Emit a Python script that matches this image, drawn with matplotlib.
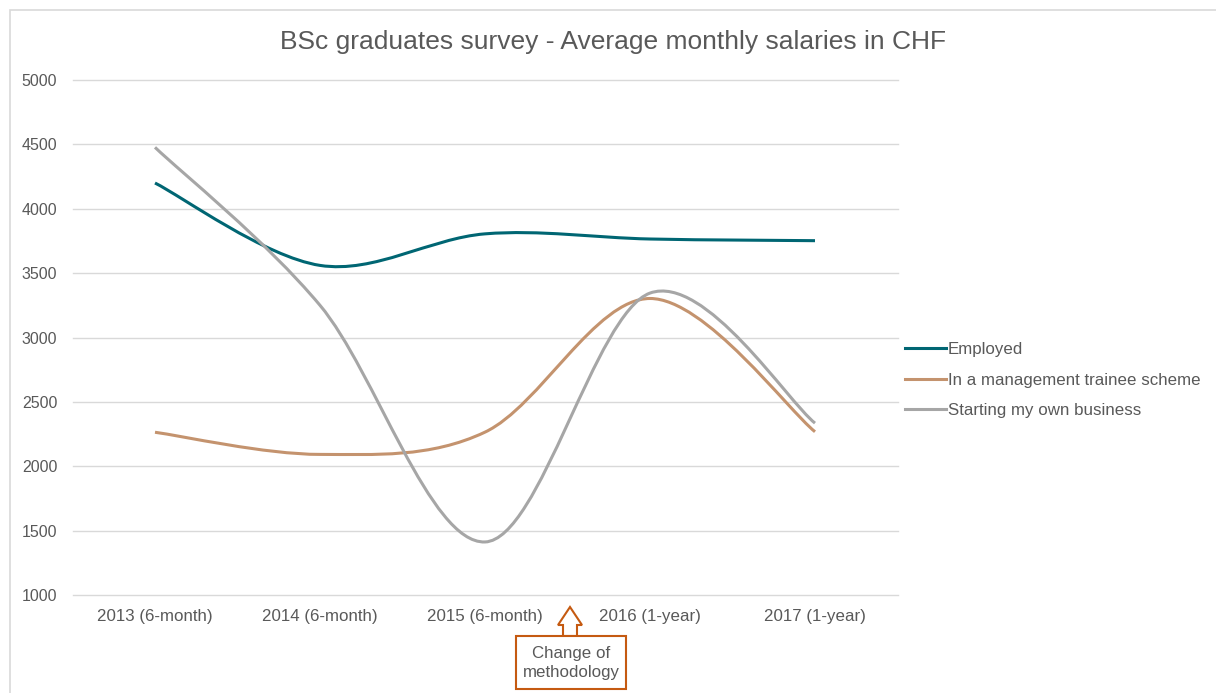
import matplotlib.pyplot as plt
import numpy as np
from matplotlib.path import Path
from matplotlib.patches import PathPatch, Rectangle, Polygon
from matplotlib.lines import Line2D

plt.rcParams['font.family'] = ['Liberation Sans', 'DejaVu Sans']

years = ["2013 (6-month)", "2014 (6-month)", "2015 (6-month)", "2016 (1-year)", "2017 (1-year)"]
employed = [4200, 3560, 3805, 3765, 3752]
trainee = [2264, 2092, 2265, 3303, 2268]
business = [4477, 3250, 1412, 3345, 2335]

names = ["Employed", "In a management trainee scheme", "Starting my own business"]
colors = ["#006673", "#C4936E", "#A6A6A6"]
grey = "#595959"


def smooth_path(xs, ys):
    # excel style smoothed line: bezier segments, control points from neighbours
    pts = np.column_stack([xs, ys]).astype(float)
    n = len(pts)
    verts = [pts[0]]
    codes = [Path.MOVETO]
    for i in range(n - 1):
        p0 = pts[i - 1] if i > 0 else pts[i]
        p1 = pts[i]
        p2 = pts[i + 1]
        p3 = pts[i + 2] if i + 2 < n else pts[i + 1]
        c1 = p1 + (p2 - p0) / 6
        c2 = p2 - (p3 - p1) / 6
        verts += [c1, c2, p2]
        codes += [Path.CURVE4] * 3
    return Path(verts, codes)


W, H = 1216, 693
fig = plt.figure(figsize=(W / 100, H / 100), dpi=100)
ax = fig.add_axes([72.5 / W, 1 - 595 / H, 825 / W, 515 / H])

x = np.arange(len(years))
handles = []
for vals, c, nm in zip([employed, trainee, business], colors, names):
    ax.add_patch(PathPatch(smooth_path(x, vals), fill=False, edgecolor=c, lw=2.2,
                           capstyle='butt', zorder=3))
    handles.append(Line2D([], [], color=c, lw=2.2, label=nm))

ax.set_xlim(-0.5, 4.5)
ax.set_ylim(1000, 5000)
ax.set_yticks(np.arange(1000, 5001, 500))
ax.set_xticks(x)
ax.set_xticklabels(years)
ax.grid(axis='y', color='#D9D9D9', lw=1)
for gl in ax.get_ygridlines():
    gl.set_clip_on(False)
ax.set_axisbelow(True)
for s in ax.spines.values():
    s.set_visible(False)
ax.tick_params(axis='x', length=0, labelsize=12.2, labelcolor=grey, pad=10)
ax.tick_params(axis='y', length=0, labelsize=11.5, labelcolor=grey, pad=11)

fig.text(613 / W, 1 - 42 / H, "BSc graduates survey - Average monthly salaries in CHF",
         ha='center', va='center', fontsize=19, color=grey)

fig.legend(handles=handles, loc='center left', bbox_to_anchor=(897 / W, 1 - 380 / H),
           frameon=False, fontsize=12.2, labelcolor=grey, handlelength=2.4,
           handletextpad=0.1, labelspacing=0.9, borderpad=0)

# chart area border
fig.patches.append(Rectangle((10 / W, -0.1), 1.1, 1 - 10 / H + 0.1, transform=fig.transFigure,
                             fill=False, edgecolor='#D9D9D9', lw=1.2))

# change of methodology callout
orange = "#C55A11"
arrow = [(570, 607), (582, 625), (577, 625), (577, 636), (563, 636), (563, 625), (558, 625)]
fig.patches.append(Polygon([(px / W, 1 - py / H) for px, py in arrow], closed=True,
                           transform=fig.transFigure, facecolor='white', edgecolor=orange, lw=1.5))
fig.patches.append(Rectangle((516 / W, 1 - 689 / H), 110 / W, 53 / H, transform=fig.transFigure,
                             facecolor='white', edgecolor=orange, lw=1.5))
fig.text(571 / W, 1 - 663 / H, "Change of\nmethodology", ha='center', va='center',
         fontsize=12.2, color=grey, linespacing=1.3)

fig.savefig("out.png", dpi=100)
